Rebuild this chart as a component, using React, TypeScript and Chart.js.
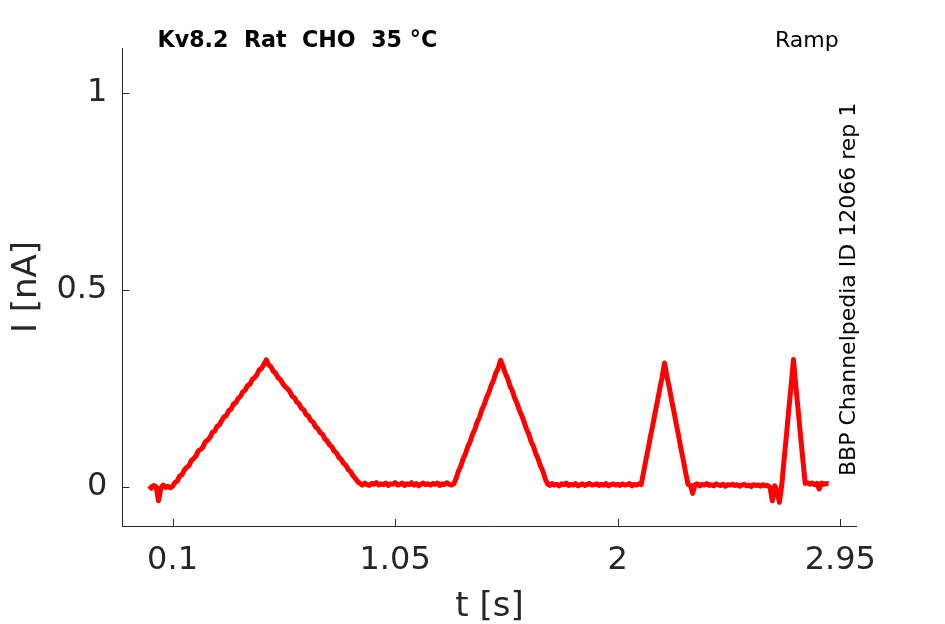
import React, { useEffect, useRef } from 'react';
import { Chart, registerables } from 'chart.js';

Chart.register(...registerables);

// sampling period of the trace (s)
const samplePeriodS = 0.01;

// recorded current (nA), one row per 0.1 s
const currentNA = [
  0.002, -0.004, 0.003, 0.000, -0.036, -0.003, 0.004, -0.002, 0.001, -0.003,
  0.001, 0.010, 0.014, 0.027, 0.030, 0.042, 0.049, 0.053, 0.066, 0.071,
  0.078, 0.091, 0.094, 0.101, 0.114, 0.118, 0.125, 0.138, 0.141, 0.153,
  0.157, 0.168, 0.177, 0.181, 0.193, 0.197, 0.210, 0.213, 0.224, 0.229,
  0.241, 0.245, 0.257, 0.260, 0.272, 0.277, 0.284, 0.297, 0.300, 0.311,
  0.322, 0.309, 0.304, 0.293, 0.288, 0.277, 0.272, 0.262, 0.254, 0.249,
  0.242, 0.230, 0.226, 0.215, 0.210, 0.199, 0.195, 0.183, 0.179, 0.168,
  0.164, 0.152, 0.147, 0.137, 0.133, 0.121, 0.116, 0.106, 0.101, 0.090,
  0.085, 0.074, 0.069, 0.059, 0.054, 0.043, 0.038, 0.028, 0.021, 0.013,
  0.008, 0.004, 0.009, 0.005, 0.003, 0.008, 0.006, 0.010, 0.004, 0.007,
  0.005, 0.009, 0.003, 0.007, 0.006, 0.010, 0.004, 0.006, 0.009, 0.003,
  0.007, 0.005, 0.010, 0.004, 0.008, 0.002, 0.006, 0.009, 0.005, 0.007,
  0.004, 0.008, 0.006, 0.009, 0.003, 0.007, 0.005, 0.010, 0.006, 0.004,
  0.007, 0.020, 0.039, 0.052, 0.070, 0.083, 0.101, 0.114, 0.132, 0.145,
  0.164, 0.176, 0.195, 0.208, 0.226, 0.239, 0.257, 0.270, 0.289, 0.301,
  0.321, 0.306, 0.288, 0.275, 0.256, 0.244, 0.225, 0.212, 0.194, 0.181,
  0.165, 0.147, 0.134, 0.115, 0.103, 0.084, 0.071, 0.053, 0.040, 0.021,
  0.007, 0.003, 0.008, 0.004, 0.006, 0.002, 0.007, 0.005, 0.009, 0.003,
  0.006, 0.004, 0.008, 0.002, 0.005, 0.007, 0.003, 0.006, 0.008, 0.004,
  0.005, 0.007, 0.003, 0.006, 0.004, 0.008, 0.002, 0.005, 0.007, 0.004,
  0.006, 0.003, 0.007, 0.004, 0.005, 0.008, 0.002, 0.006, 0.004, 0.007,
  0.005, 0.035, 0.067, 0.096, 0.128, 0.157, 0.189, 0.218, 0.250, 0.279,
  0.314, 0.280, 0.252, 0.219, 0.190, 0.158, 0.129, 0.096, 0.067, 0.035,
  0.006, 0.004, -0.017, 0.005, 0.007, 0.002, 0.006, 0.004, 0.008, 0.003,
  0.005, 0.002, 0.007, 0.004, 0.003, 0.006, 0.001, 0.005, 0.004, 0.006,
  0.003, 0.005, 0.001, 0.004, 0.006, 0.002, 0.004, 0.000, 0.005, 0.003,
  0.004, 0.001, 0.005, 0.002, 0.003, -0.002, -0.036, 0.002, -0.010, -0.040,
  0.003, 0.068, 0.130, 0.195, 0.256, 0.323, 0.256, 0.195, 0.131, 0.070,
  0.008, 0.010, 0.006, 0.009, 0.005, 0.008, -0.006, 0.009, 0.006, 0.008,
  0.007,
];

const xTicks = [0.1, 1.05, 2, 2.95];
const yTicks = [0, 0.5, 1];

const titleText = 'Kv8.2  Rat  CHO  35 °C';
const protocolText = 'Ramp';
const sourceText = 'BBP Channelpedia ID 12066 rep 1';

const FONT = '"DejaVu Sans", sans-serif';
const AXIS_COLOR = '#262626';

// inward tick marks + annotation texts
const decorPlugin = {
  id: 'decor',
  afterDraw(chart: any) {
    const { ctx, chartArea, scales } = chart;
    ctx.save();
    ctx.strokeStyle = AXIS_COLOR;
    ctx.lineWidth = 1;
    ctx.beginPath();
    xTicks.forEach((v) => {
      const px = Math.round(scales.x.getPixelForValue(v)) + 0.5;
      ctx.moveTo(px, chartArea.bottom);
      ctx.lineTo(px, chartArea.bottom - 7);
    });
    yTicks.forEach((v) => {
      const py = Math.round(scales.y.getPixelForValue(v)) + 0.5;
      ctx.moveTo(chartArea.left, py);
      ctx.lineTo(chartArea.left + 7, py);
    });
    ctx.stroke();

    ctx.fillStyle = '#000';
    ctx.textBaseline = 'alphabetic';
    ctx.textAlign = 'left';
    ctx.font = `bold 22.2px ${FONT}`;
    ctx.fillText(titleText, 157.5, 47);
    ctx.font = `22px ${FONT}`;
    ctx.fillText(protocolText, 775, 47);

    ctx.translate(855, 476);
    ctx.rotate(-Math.PI / 2);
    ctx.fillText(sourceText, 0, 0);
    ctx.restore();
  },
};

const App: React.FC = () => {
  const canvasRef = useRef<HTMLCanvasElement>(null);
  const chartRef = useRef<Chart | null>(null);

  useEffect(() => {
    if (!canvasRef.current) return;
    const ctx = canvasRef.current.getContext('2d');
    if (!ctx) return;

    if (chartRef.current) {
      chartRef.current.destroy();
      chartRef.current = null;
    }

    const points = currentNA.map((v, i) => ({ x: i * samplePeriodS, y: v }));

    chartRef.current = new Chart(ctx, {
      type: 'line',
      data: {
        datasets: [{
          data: points,
          borderColor: '#ff0000',
          borderWidth: 5,
          borderJoinStyle: 'round',
          pointRadius: 0,
          tension: 0,
          fill: false,
        }],
      },
      options: {
        animation: false,
        responsive: true,
        maintainAspectRatio: false,
        layout: { padding: { top: 48, right: 88.3, bottom: 0, left: 0 } },
        plugins: { legend: { display: false }, tooltip: { enabled: false }, title: { display: false } },
        scales: {
          x: {
            type: 'linear',
            min: -0.1145,
            max: 3.02,
            afterBuildTicks: (s: any) => { s.ticks = xTicks.map((value) => ({ value })); },
            afterFit: (s: any) => { s.height = 98; s.paddingLeft = 0; s.paddingRight = 0; },
            grid: { display: false, drawTicks: false },
            border: { display: true, color: AXIS_COLOR, width: 1 },
            ticks: {
              color: AXIS_COLOR,
              font: { family: FONT, size: 32 },
              padding: 15.5,
              maxRotation: 0,
              autoSkip: false,
              callback: (v: any) => String(v),
            },
            title: {
              display: true,
              text: 't [s]',
              color: AXIS_COLOR,
              font: { family: FONT, size: 34, lineHeight: 1 },
              padding: { top: 0, bottom: 0 },
            },
          },
          y: {
            type: 'linear',
            min: -0.1,
            max: 1.114,
            afterBuildTicks: (s: any) => { s.ticks = yTicks.map((value) => ({ value })); },
            afterFit: (s: any) => { s.width = 122.3; s.paddingTop = 0; s.paddingBottom = 0; },
            grid: { display: false, drawTicks: false },
            border: { display: true, color: AXIS_COLOR, width: 1 },
            ticks: {
              color: AXIS_COLOR,
              font: { family: FONT, size: 32 },
              padding: 15,
              autoSkip: false,
              callback: (v: any) => String(v),
            },
            title: {
              display: true,
              text: 'I [nA]',
              color: AXIS_COLOR,
              font: { family: FONT, size: 34, lineHeight: 1 },
              padding: { top: 10, bottom: 0 },
            },
          },
        },
      },
      plugins: [decorPlugin],
    });

    return () => {
      if (chartRef.current) {
        chartRef.current.destroy();
        chartRef.current = null;
      }
    };
  }, []);

  return (
    <div style={{ position: 'fixed', left: 0, top: 0, width: 945, height: 624, background: '#fff' }}>
      <canvas ref={canvasRef}></canvas>
    </div>
  );
};

export default App;
